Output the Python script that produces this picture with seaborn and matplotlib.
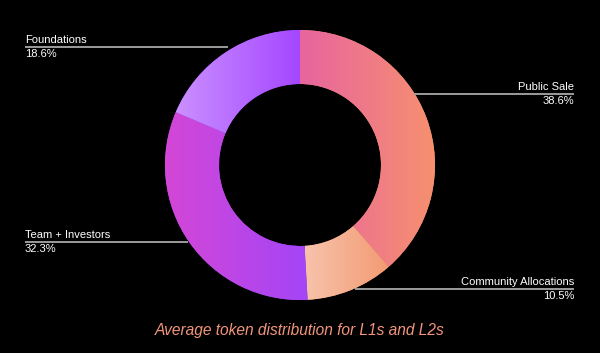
import numpy as np
import matplotlib
matplotlib.use("Agg")
import matplotlib.pyplot as plt
import seaborn as sns

# Data
categories = ["Public Sale", "Community Allocations", "Team + Investors", "Foundations"]
shares = [38.6, 10.5, 32.3, 18.6]
pct_labels = ["38.6%", "10.5%", "32.3%", "18.6%"]
title_text = "Average token distribution for L1s and L2s"

# gradient colours (left -> right) per slice
grad_colors = [("#e8659f", "#f6906f"),
               ("#f7c3ab", "#f39a72"),
               ("#d447d6", "#a445f7"),
               ("#ca90ff", "#a446ff")]

sns.set_style("dark", {"axes.facecolor": "black", "figure.facecolor": "black"})
plt.rcParams["font.family"] = ["Liberation Sans", "DejaVu Sans"]

W, H = 600, 353
fig = plt.figure(figsize=(6.0, 3.53), dpi=100, facecolor="black")
ax = fig.add_axes([0, 0, 1, 1])
ax.set_facecolor("black")

cx, cy = 300, H - 165
R, width = 135, 54
wedges, _ = ax.pie(shares, radius=R, center=(cx, cy), startangle=90,
                   counterclock=False, frame=True,
                   wedgeprops=dict(width=width, linewidth=0))

for w, (c0, c1) in zip(wedges, grad_colors):
    t = np.radians(np.linspace(w.theta1, w.theta2, 200))
    xs = np.concatenate([cx + R * np.cos(t), cx + (R - width) * np.cos(t)])
    ys = np.concatenate([cy + R * np.sin(t), cy + (R - width) * np.sin(t)])
    x0, x1 = xs.min(), xs.max()
    y0, y1 = ys.min(), ys.max()
    cmap = sns.blend_palette([c0, c1], as_cmap=True)
    w.set_facecolor(c1)
    im = ax.imshow(np.linspace(0, 1, 256)[None, :], extent=(x0, x1, y0, y1),
                   cmap=cmap, aspect="auto", interpolation="bilinear", zorder=2)
    im.set_clip_path(w)

# label lines: (y_px, x_start, x_end, text x, ha)
label_layout = {
    "Foundations": (47, 25, 228, 25, "left"),
    "Public Sale": (94, 414, 574, 574, "right"),
    "Team + Investors": (242, 25, 188, 25, "left"),
    "Community Allocations": (289, 355, 574, 574, "right"),
}
for cat, pct in zip(categories, pct_labels):
    yp, xa, xb, tx, ha = label_layout[cat]
    y = H - yp
    ax.plot([xa, xb], [y, y], color="#9c9c9c", lw=1.4, zorder=3,
            solid_capstyle="butt")
    ax.text(tx, y + 1.8, cat, color="white", fontsize=8.0, ha=ha, va="bottom")
    ax.text(tx, y - 1.8, pct, color="white", fontsize=8.0, ha=ha, va="top")

ax.text(300, H - 330, title_text, color="#f2957c", fontsize=11.2,
        style="italic", ha="center", va="center")

ax.set_xlim(0, W)
ax.set_ylim(0, H)
ax.set_aspect("equal")
ax.axis("off")

fig.savefig("out.png", dpi=100, facecolor="black")
